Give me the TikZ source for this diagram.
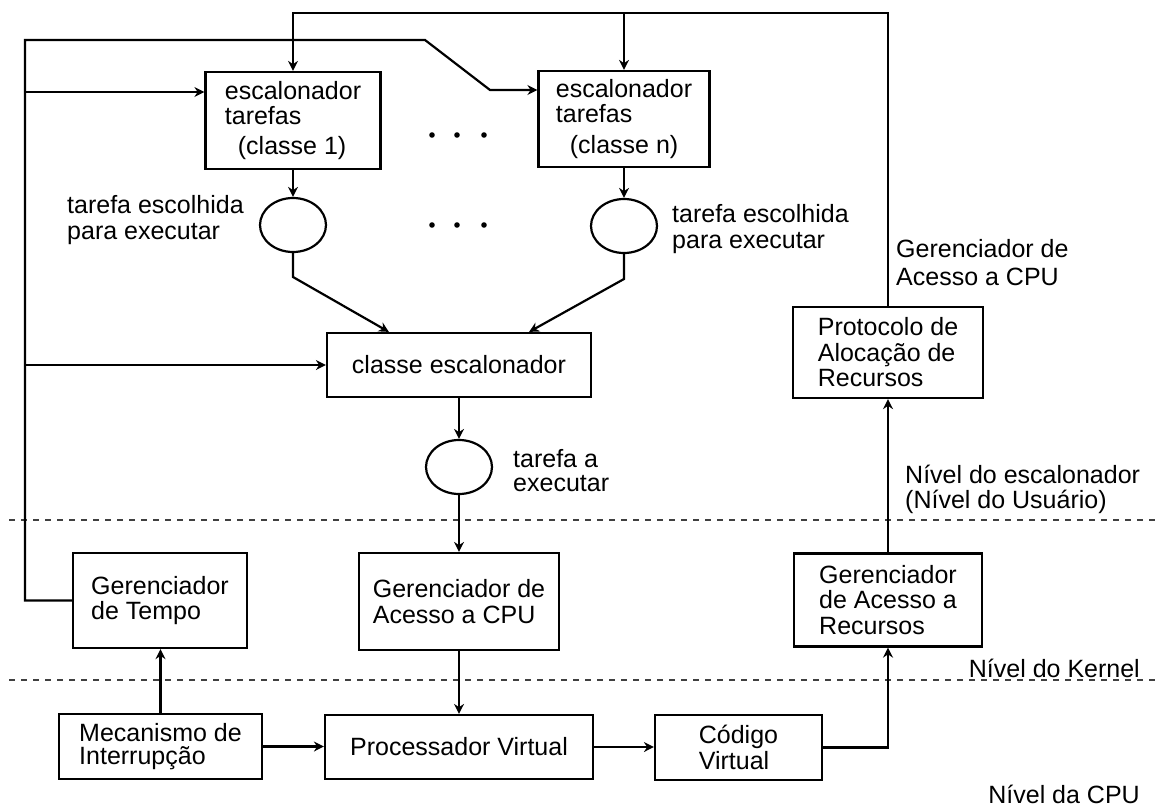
\documentclass[tikz,border=0pt]{standalone}
\usepackage{fontspec}
\setmainfont{Liberation Sans}
\usetikzlibrary{arrows.meta,shapes.geometric,calc}
\begin{document}
\begin{tikzpicture}[x=1pt,y=-1pt,
  every node/.style={font=\fontsize{25}{25.5}\selectfont},
  box/.style={draw, line width=2.2pt, rectangle, align=left, inner sep=0pt},
  oval/.style={draw, line width=2.2pt, ellipse, minimum width=66pt, minimum height=54pt, inner sep=0pt},
  conn/.style={line width=2.2pt},
  arr/.style={conn, -{Stealth[length=10pt,width=10pt]}},
  level/.style={line width=1.4pt, dash pattern=on 6pt off 6pt, black!75},
  lbl/.style={align=left, inner sep=0pt, anchor=west}]
\useasboundingbox (0,0) rectangle (1156,811);

% level separators
\draw[level] (9,520) -- (1156,520);
\draw[level] (9,680) -- (1156,680);

% task schedulers per class
\node[box, minimum width=175pt, minimum height=97pt] (esc1) at (293,120.5)
  {escalonador\\tarefas\\[4pt]\hspace*{13pt}(classe 1)};
\node[box, minimum width=171pt, minimum height=96pt] (escn) at (624,119)
  {escalonador\\tarefas\\[5pt]\hspace*{14pt}(classe n)};

% chosen tasks
\node[oval] (c1) at (293,225) {};
\node[oval] (cn) at (624,226) {};
\node[lbl, font=\fontsize{25}{26}\selectfont] (t1) at (67,220) {tarefa escolhida\\para executar};
\node[lbl, font=\fontsize{25}{26}\selectfont] (tn) at (672,229.5) {tarefa escolhida\\para executar};

% ellipsis between classes
\foreach \x in {432,457,484} {
  \fill (\x,135) circle (2.8pt);
  \fill (\x,225) circle (2.8pt);
}

% class scheduler
\node[box, minimum width=264pt, minimum height=64pt] (classe) at (459,365) {classe escalonador};
\node[oval] (c3) at (459,467) {};
\node[lbl, font=\fontsize{25}{24}\selectfont] (t3) at (513,471) {tarefa a\\executar};

% resource protocol
\node[box, minimum width=190pt, minimum height=91pt] (proto) at (888,352.5)
  {Protocolo de\\Alocação de\\Recursos};
\node[lbl, font=\fontsize{25}{28}\selectfont] (gacpu) at (896,263) {Gerenciador de\\Acesso a CPU};

% kernel level
\node[box, minimum width=174pt, minimum height=95pt] (tempo) at (160,600.5) {Gerenciador\\de Tempo};
\node[box, minimum width=200pt, minimum height=97pt] (cpu) at (459,601.5) {Gerenciador de\\Acesso a CPU};
\node[box, minimum width=188pt, minimum height=93pt] (rec) at (888,600) {Gerenciador\\de Acesso a\\Recursos};

% CPU level
\node[box, minimum width=203pt, minimum height=65pt, font=\fontsize{25}{23.5}\selectfont] (mec) at (160.5,746.5) {Mecanismo de\\Interrupção};
\node[box, minimum width=268pt, minimum height=64pt] (proc) at (459,747) {Processador Virtual};
\node[box, minimum width=167pt, minimum height=65pt] (cod) at (738.5,747.5) {Código\\Virtual};

% level names
\node[lbl, font=\fontsize{25}{25}\selectfont] (nesc) at (905,489.5) {Nível do escalonador\\(Nível do Usuário)};
\node[anchor=east, inner sep=0pt] (nker) at (1140,668) {Nível do Kernel};
\node[anchor=east, inner sep=0pt] (ncpu) at (1140,794) {Nível da CPU};

% feedback from the resource protocol to the task schedulers
\coordinate (tr) at (888,13);
\coordinate (tl) at (293,13);
\coordinate (tb) at (624,13);
\draw[arr] (proto.north) -- (tr) -- (tl) -- (esc1.north);
\draw[arr] (tb) -- (escn.north);

% feedback from the time manager
\coordinate (lt) at (25,40);
\coordinate (k1) at (425,40);
\coordinate (k2) at (490,90);
\coordinate (b1) at (25,92);
\coordinate (b2) at (25,365);
\draw[arr] (tempo.west) -- (tempo.west -| lt) -- (lt) -- (k1) -- (k2) -- (k2 -| escn.west);
\draw[arr] (b1) -- (b1 -| esc1.west);
\draw[arr] (b2) -- (classe.west);

% task selection flow
\coordinate (j1) at (293,277);
\coordinate (j2) at (624,279);
\draw[arr] (esc1.south) -- (c1.north);
\draw[arr] (escn.south) -- (cn.north);
\draw[arr] (c1.south) -- (j1) -- ($(classe.north west)+(63,0)$);
\draw[arr] (cn.south) -- (j2) -- ($(classe.north east)+(-63,0)$);
\draw[arr] (classe.south) -- (c3.north);
\draw[arr] (c3.south) -- (c3.south |- cpu.north);
\draw[arr] (cpu.south) -- (cpu.south |- proc.north);

% lower level flow
\draw[arr] (mec.north) -- (mec.north |- tempo.south);
\draw[arr] (mec.east) -- (mec.east -| proc.west);
\draw[arr] (proc.east) -- (proc.east -| cod.west);
\draw[arr] (cod.east) -- (cod.east -| rec.south) -- (rec.south);
\draw[arr] (rec.north) -- (proto.south);
\end{tikzpicture}
\end{document}
